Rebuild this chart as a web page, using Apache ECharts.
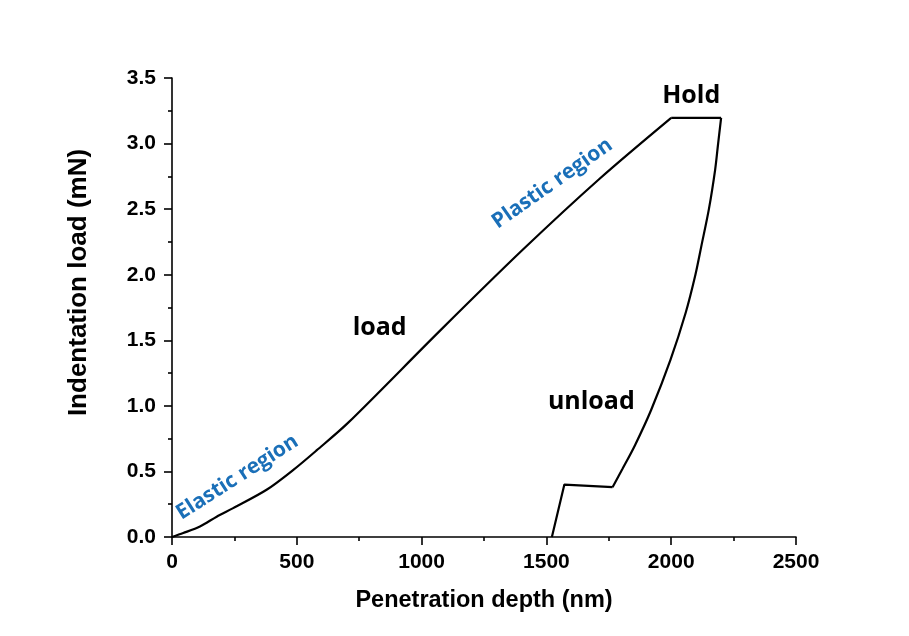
<!DOCTYPE html>
<html>
<head>
<meta charset="utf-8">
<script src="https://cdn.jsdelivr.net/npm/echarts@6/dist/echarts.min.js"></script>
<style>
html,body{margin:0;padding:0;background:#fff;}
#chart{width:909px;height:636px;}
</style>
</head>
<body>
<div id="chart"></div>
<script>
// Loading segment (depth nm, load mN)
const loadDepth = [0, 45, 112, 179, 245, 379, 485, 579, 705, 1072, 1405, 1712, 2000];
const loadForce = [0, 0.03, 0.08, 0.155, 0.22, 0.36, 0.51, 0.66, 0.87, 1.57, 2.19, 2.73, 3.196];
// Hold segment
const holdDepth = [2000, 2200];
const holdForce = [3.196, 3.196];
// Unloading curve
const unloadDepth = [2200, 2188, 2176, 2151, 2121, 2097, 2058, 1997, 1920, 1855, 1805, 1765];
const unloadForce = [3.196, 3.0, 2.8, 2.5, 2.22, 2.0, 1.71, 1.35, 0.97, 0.70, 0.52, 0.38];
// Unloading tail (with kink)
const tailDepth = [1765, 1572, 1522];
const tailForce = [0.38, 0.40, 0];

// Axis ticks
const xTicks = [0, 500, 1000, 1500, 2000, 2500];
const yTicks = [0.0, 0.5, 1.0, 1.5, 2.0, 2.5, 3.0, 3.5];

// Annotations
const noteText = ['Elastic region', 'Plastic region', 'load', 'unload', 'Hold'];
const noteDepth = [262, 1524, 832, 1680, 2080];
const noteForce = [0.455, 2.695, 1.595, 1.03, 3.36];
const noteRotate = [32.6, 35, 0, 0, 0];
const noteColor = ['#1a6fb8', '#1a6fb8', '#000', '#000', '#000'];
const noteSize = [21, 21, 25, 25, 25];

const zip = (a, b) => a.map((v, i) => [v, b[i]]);

const chart = echarts.init(document.getElementById('chart'), null, {renderer: 'canvas'});
const axisFont = 'Liberation Sans';
chart.setOption({
  backgroundColor: '#ffffff',
  animation: false,
  grid: {left: 172, right: 113, top: 78, bottom: 99},
  xAxis: {
    type: 'value', min: xTicks[0], max: xTicks[xTicks.length - 1], interval: 500,
    name: 'Penetration depth (nm)', nameLocation: 'middle', nameGap: 52,
    nameTextStyle: {fontFamily: axisFont, fontWeight: 'bold', fontSize: 23.5, color: '#000'},
    axisLine: {show: true, lineStyle: {color: '#000', width: 1.6}},
    axisTick: {show: true, inside: false, length: 8, lineStyle: {color: '#000', width: 1.6}},
    minorTick: {show: true, splitNumber: 2, length: 4, lineStyle: {color: '#000', width: 1.6}},
    axisLabel: {fontFamily: axisFont, fontWeight: 'bold', fontSize: 21, color: '#000', margin: 15,
      formatter: v => String(v)},
    splitLine: {show: false}
  },
  yAxis: {
    type: 'value', min: yTicks[0], max: yTicks[yTicks.length - 1], interval: 0.5,
    name: 'Indentation load (mN)', nameLocation: 'middle', nameGap: 80,
    nameTextStyle: {fontFamily: axisFont, fontWeight: 'bold', fontSize: 26, color: '#000', padding: [0, 0, 0, 50]},
    axisLine: {show: true, lineStyle: {color: '#000', width: 1.6}},
    axisTick: {show: true, inside: false, length: 8, lineStyle: {color: '#000', width: 1.6}},
    minorTick: {show: true, splitNumber: 2, length: 4, lineStyle: {color: '#000', width: 1.6}},
    axisLabel: {fontFamily: axisFont, fontWeight: 'bold', fontSize: 21, color: '#000', margin: 16,
      formatter: v => v.toFixed(1)},
    splitLine: {show: false}
  },
  series: [
    {type: 'line', data: zip(loadDepth, loadForce), smooth: 0.3, symbol: 'none',
      lineStyle: {color: '#000', width: 2.2}},
    {type: 'line', data: zip(holdDepth, holdForce), symbol: 'none',
      lineStyle: {color: '#000', width: 2.2}},
    {type: 'line', data: zip(unloadDepth, unloadForce), smooth: 0.3, symbol: 'none',
      lineStyle: {color: '#000', width: 2.2}},
    {type: 'line', data: zip(tailDepth, tailForce), symbol: 'none',
      lineStyle: {color: '#000', width: 2.2}},
    {type: 'scatter', symbolSize: 0, silent: true, itemStyle: {opacity: 1},
      data: noteText.map((t, i) => ({
        value: [noteDepth[i], noteForce[i]],
        label: {show: true, position: 'inside', formatter: t, rotate: noteRotate[i], opacity: 1,
          color: noteColor[i], fontSize: noteSize[i], fontWeight: 'bold', fontFamily: 'Open Sans'}
      }))}
  ]
});
</script>
</body>
</html>
